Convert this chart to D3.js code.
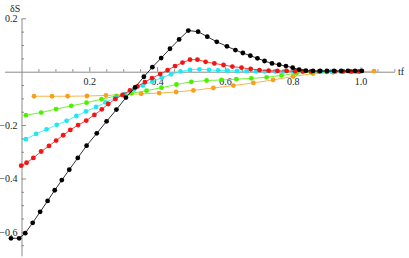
<!DOCTYPE html>
<html>
<head>
<meta charset="utf-8">
<script src="https://cdn.jsdelivr.net/npm/d3@7"></script>
<style>
  body { margin: 0; background: #fff; }
  svg text { font-family: "Liberation Serif", "DejaVu Serif", serif; }
</style>
</head>
<body>
<svg id="chart" width="409" height="258"></svg>
<script>
// values, [tf, dS]
var blackPts = [
  [-0.031, -0.624], [-0.007, -0.624], [0.011, -0.605], [0.033, -0.566], [0.055, -0.525],
  [0.077, -0.484], [0.098, -0.444], [0.119, -0.406], [0.141, -0.367], [0.166, -0.323],
  [0.192, -0.277], [0.222, -0.231], [0.251, -0.186], [0.280, -0.142], [0.308, -0.097],
  [0.335, -0.059], [0.361, -0.019], [0.386, 0.017], [0.412, 0.051], [0.438, 0.086],
  [0.465, 0.121], [0.492, 0.154], [0.521, 0.150], [0.548, 0.131], [0.576, 0.112],
  [0.606, 0.095], [0.631, 0.081], [0.653, 0.070], [0.675, 0.060], [0.696, 0.050],
  [0.717, 0.040], [0.739, 0.031], [0.760, 0.026], [0.780, 0.021], [0.800, 0.015],
  [0.819, 0.008], [0.839, 0.004], [0.860, 0.003], [0.881, 0.003], [0.901, 0.003],
  [0.922, 0.003], [0.943, 0.003], [0.963, 0.003], [0.984, 0.003], [1.004, 0.003]
];
var redPts = [
  [-0.001, -0.352], [0.015, -0.341], [0.035, -0.323], [0.058, -0.299], [0.081, -0.278],
  [0.102, -0.258], [0.123, -0.238], [0.144, -0.218], [0.167, -0.200], [0.191, -0.183],
  [0.215, -0.162], [0.237, -0.141], [0.256, -0.121], [0.277, -0.102], [0.298, -0.087],
  [0.320, -0.070], [0.342, -0.055], [0.364, -0.039], [0.385, -0.024], [0.409, -0.009],
  [0.431, 0.006], [0.453, 0.021], [0.475, 0.034], [0.497, 0.045], [0.519, 0.045],
  [0.543, 0.037], [0.569, 0.031], [0.596, 0.025], [0.622, 0.019], [0.649, 0.015],
  [0.676, 0.010], [0.702, 0.006], [0.729, 0.004], [0.755, 0.003], [0.782, 0.003],
  [0.807, 0.002], [0.830, 0.001], [0.854, 0.001], [0.878, 0.001], [0.901, 0.001],
  [0.925, 0.001], [0.949, 0.001], [0.972, 0.001], [0.996, 0.001]
];
var cyanPts = [
  [0.013, -0.253], [0.043, -0.233], [0.074, -0.216], [0.104, -0.199], [0.133, -0.184],
  [0.162, -0.166], [0.190, -0.149], [0.220, -0.132], [0.248, -0.115], [0.276, -0.099],
  [0.304, -0.084], [0.332, -0.067], [0.358, -0.052], [0.386, -0.037], [0.414, -0.022],
  [0.441, -0.010], [0.469, 0.001], [0.497, 0.007], [0.525, 0.009], [0.553, 0.007],
  [0.580, 0.005], [0.608, 0.004], [0.636, 0.003], [0.664, 0.002], [0.692, 0.001],
  [0.718, 0.001], [0.748, 0.001], [0.774, 0.001], [0.802, 0.001], [0.830, 0.001],
  [0.857, 0.001], [0.885, 0.001], [0.913, 0.001], [0.941, 0.001], [0.969, 0.001],
  [0.997, 0.001]
];
var greenPts = [
  [0.013, -0.163], [0.058, -0.153], [0.102, -0.140], [0.147, -0.128], [0.192, -0.116],
  [0.236, -0.103], [0.280, -0.091], [0.324, -0.081], [0.369, -0.071], [0.413, -0.060],
  [0.457, -0.048], [0.501, -0.038], [0.546, -0.033], [0.590, -0.031], [0.634, -0.028],
  [0.678, -0.025], [0.723, -0.021], [0.767, -0.014], [0.811, -0.006], [0.855, -0.002],
  [0.900, -0.001], [0.944, 0.000], [0.988, 0.000]
];
var orangePts = [
  [0.037, -0.092], [0.090, -0.092], [0.136, -0.092], [0.193, -0.091], [0.249, -0.089],
  [0.302, -0.086], [0.353, -0.083], [0.406, -0.080], [0.456, -0.076], [0.507, -0.070],
  [0.566, -0.061], [0.625, -0.052], [0.684, -0.042], [0.742, -0.031], [0.801, -0.018],
  [0.860, -0.007], [0.919, -0.002], [0.978, 0.000], [1.040, 0.002]
];

var xMajor = [0.2, 0.4, 0.6, 0.8, 1.0];
var yMajor = [-0.6, -0.4, -0.2, 0.2];

var series = [
  { pts: orangePts, color: '#f7a01e' },
  { pts: greenPts, color: '#4ef000' },
  { pts: cyanPts, color: '#1ee8f2' },
  { pts: redPts, color: '#f41414' },
  { pts: blackPts, color: '#000000' }
];

var svg = d3.select('svg#chart');

var x = d3.scaleLinear().domain([-0.05, 1.1]).range([4.55, 394.4]);
var y = d3.scaleLinear().domain([-0.69, 0.2]).range([255.9, 18.3]);

// minor ticks every 0.05
var xMinor = d3.range(1, 23).map(function(i) { return +(i * 0.05).toFixed(2); })
    .filter(function(v) { return xMajor.indexOf(v) < 0; });
var yMinor = d3.range(-13, 5).map(function(i) { return +(i * 0.05).toFixed(2); })
    .filter(function(v) { return v !== 0 && yMajor.indexOf(v) < 0; });

var fmt = d3.format('.1f');

function styleAxis(g) {
    g.select('.domain').attr('stroke', '#8a8a8a');
    g.selectAll('.tick line').attr('stroke', '#8a8a8a');
    g.selectAll('.tick text')
        .attr('fill', '#222')
        .attr('font-size', 10)
        .attr('font-family', '"Liberation Serif", serif');
}

// x axis
svg.append('g')
    .attr('transform', 'translate(0,' + y(0) + ')')
    .call(d3.axisBottom(x).tickValues(xMinor).tickSize(-2.5).tickFormat('').tickSizeOuter(0))
    .call(styleAxis);
svg.append('g')
    .attr('transform', 'translate(0,' + y(0) + ')')
    .call(d3.axisBottom(x).tickValues(xMajor).tickSize(-4.5).tickPadding(6).tickFormat(fmt).tickSizeOuter(0))
    .call(styleAxis)
    .call(function(g) { g.select('.domain').remove(); });

// y axis
svg.append('g')
    .attr('transform', 'translate(' + x(0) + ',0)')
    .call(d3.axisLeft(y).tickValues(yMinor).tickSize(-2.5).tickFormat('').tickSizeOuter(0))
    .call(styleAxis);
svg.append('g')
    .attr('transform', 'translate(' + x(0) + ',0)')
    .call(d3.axisLeft(y).tickValues(yMajor).tickSize(-4.5).tickPadding(4).tickFormat(fmt).tickSizeOuter(0))
    .call(styleAxis)
    .call(function(g) { g.select('.domain').remove(); });

// axis labels
svg.append('text')
    .attr('x', 10).attr('y', 12)
    .attr('font-size', 10)
    .attr('fill', '#222')
    .text('δS');
svg.append('text')
    .attr('x', 398).attr('y', 75)
    .attr('font-size', 10)
    .attr('fill', '#222')
    .text('tf');

// series
var line = d3.line()
    .x(function(d) { return x(d[0]); })
    .y(function(d) { return y(d[1]); });

var groups = svg.selectAll('g.series')
    .data(series)
    .join('g')
    .classed('series', true);

groups.append('path')
    .attr('d', function(d) { return line(d.pts); })
    .attr('fill', 'none')
    .attr('stroke', function(d) { return d.color; })
    .attr('stroke-opacity', 0.8)
    .attr('stroke-width', 1);

groups.selectAll('circle')
    .data(function(d) { return d.pts.map(function(p) { return { p: p, color: d.color }; }); })
    .join('circle')
    .attr('cx', function(d) { return x(d.p[0]); })
    .attr('cy', function(d) { return y(d.p[1]); })
    .attr('r', 2.4)
    .attr('fill', function(d) { return d.color; });
</script>
</body>
</html>
